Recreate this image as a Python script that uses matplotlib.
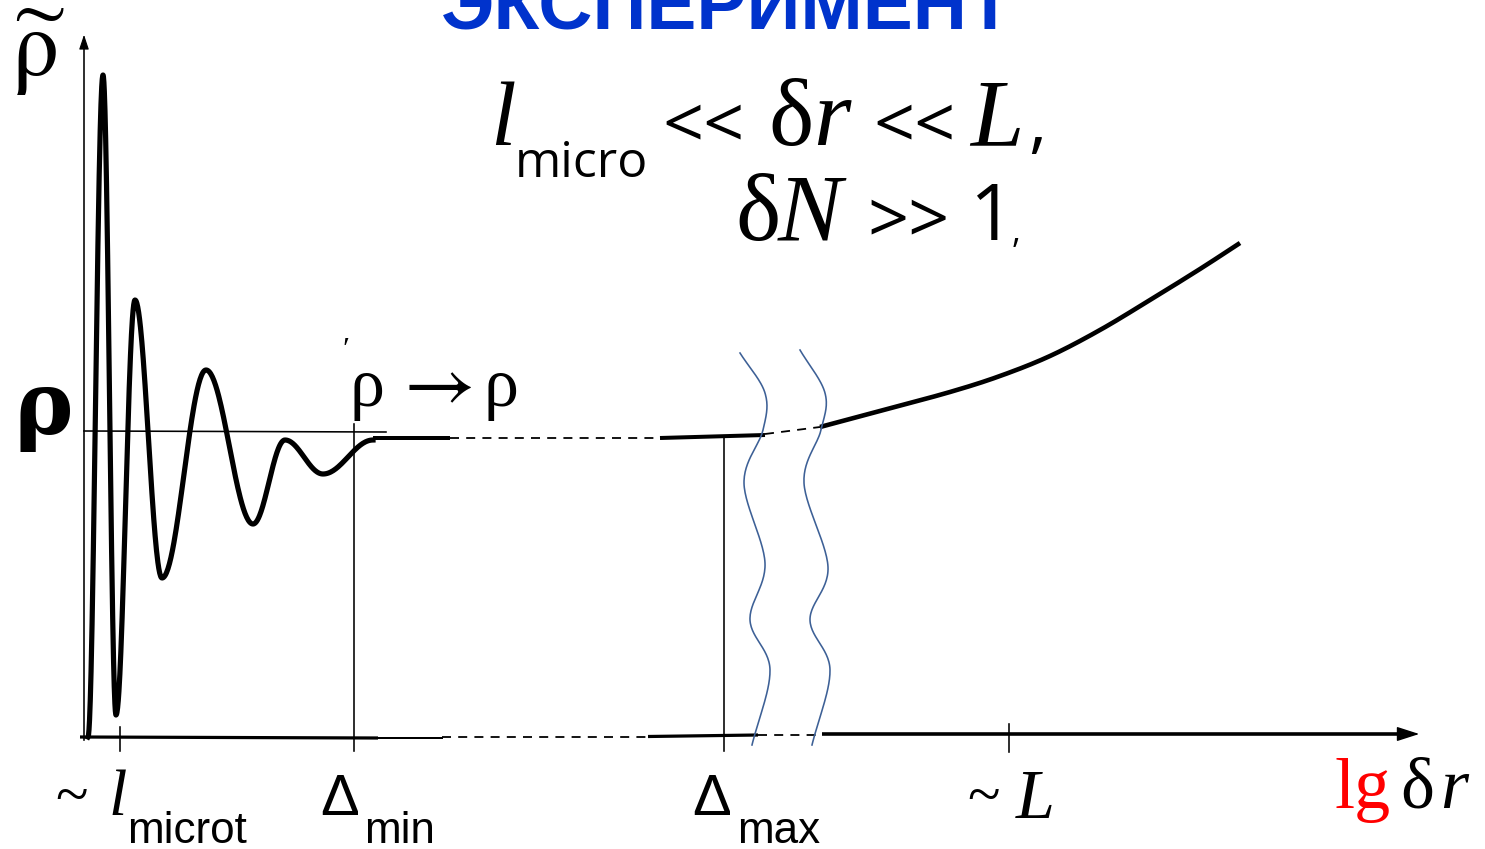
import numpy as np
import matplotlib
matplotlib.use("Agg")
import matplotlib.pyplot as plt

plt.rcParams["mathtext.fontset"] = "stix"

# ---- curve data (horizontal position, vertical position; y grows downward) ----
# extrema of the decaying oscillation of the density near the origin
osc_x = [88, 103, 116, 135, 162, 206, 253, 285, 323, 373]
osc_y = [737, 75, 715, 300, 578, 370, 524, 440, 474, 440]

# plateau level rho and the zones where it is only implied (dashed)
plateau_solid = [(373, 450, 438, 438), (660, 765, 438, 435)]
plateau_dash = [(450, 660, 438, 438), (765, 820, 434, 427)]

# growth of the density at large scales
rise_x = [820, 880, 950, 1000, 1050, 1100, 1150, 1200, 1240]
rise_y = [427, 411, 392, 376, 356, 330, 300, 269, 243]

# wavy break marks on the axis
wave1_x = [740, 765, 763, 744, 765, 750, 770, 752]
wave1_y = [353, 393, 430, 483, 563, 620, 670, 745]
wave2_x = [800, 825, 821, 804, 828, 810, 830, 812]
wave2_y = [350, 393, 430, 483, 567, 620, 670, 745]

# tick positions on the scale axis
tick_micro, tick_dmin, tick_dmax, tick_L = 120, 354, 724, 1009


def halfcos(xs, ys, n=60):
    px, py = [], []
    for i in range(len(xs) - 1):
        t = np.linspace(0, 1, n)
        px.append(xs[i] + (xs[i + 1] - xs[i]) * t)
        py.append(ys[i] + (ys[i + 1] - ys[i]) * (1 - np.cos(np.pi * t)) / 2)
    return np.concatenate(px), np.concatenate(py)


def catmull(xs, ys, n=30):
    p = np.column_stack([xs, ys]).astype(float)
    p = np.vstack([2 * p[0] - p[1], p, 2 * p[-1] - p[-2]])
    out = []
    for i in range(1, len(p) - 2):
        p0, p1, p2, p3 = p[i - 1], p[i], p[i + 1], p[i + 2]
        t = np.linspace(0, 1, n)[:, None]
        out.append(0.5 * ((2 * p1) + (-p0 + p2) * t + (2 * p0 - 5 * p1 + 4 * p2 - p3) * t ** 2
                          + (-p0 + 3 * p1 - 3 * p2 + p3) * t ** 3))
    out = np.vstack(out)
    return out[:, 0], out[:, 1]


W, H = 1485, 849
fig = plt.figure(figsize=(W / 100, H / 100), dpi=100)
ax = fig.add_axes([0, 0, 1, 1])
ax.set_xlim(0, W)
ax.set_ylim(H, 0)
ax.axis("off")

PX = 0.72  # points per pixel at 100 dpi

# vertical axis with small arrow
ax.plot([84, 84], [740, 45], color="black", lw=1.6 * PX)
ax.annotate("", xy=(84, 32), xytext=(84, 48),
            arrowprops=dict(arrowstyle="-|>,head_length=0.9,head_width=0.3", color="black", lw=0.8))

# horizontal axis pieces
ax.plot([80, 378], [737, 738], color="black", lw=3.2 * PX, solid_capstyle="butt")
ax.plot([378, 442], [738, 738], color="black", lw=2.0 * PX)
ax.plot([442, 648], [737, 737], color="black", lw=1.8 * PX, ls=(0, (5, 4)))
ax.plot([648, 758], [736.5, 735], color="black", lw=3.2 * PX, solid_capstyle="butt")
ax.plot([758, 822], [735, 735], color="black", lw=1.8 * PX, ls=(0, (5, 4)))
ax.plot([822, 1398], [734, 734], color="black", lw=3.6 * PX, solid_capstyle="butt")
ax.annotate("", xy=(1422, 734), xytext=(1392, 734),
            arrowprops=dict(arrowstyle="-|>,head_length=1.4,head_width=0.45", color="black", lw=1))

# reference level line
ax.plot([84, 386], [431, 432], color="black", lw=1.6 * PX)

# ticks and marker lines
ax.plot([tick_micro, tick_micro], [727, 751], color="black", lw=1.6 * PX)
ax.plot([tick_dmin, tick_dmin], [424, 751], color="black", lw=1.6 * PX)
ax.plot([tick_dmax, tick_dmax], [437, 751], color="black", lw=1.6 * PX)
ax.plot([tick_L, tick_L], [724, 752], color="black", lw=1.6 * PX)

# oscillating density
cx, cy = halfcos(osc_x, osc_y)
ax.plot(cx, cy, color="black", lw=5.2 * PX, solid_joinstyle="round")

for x0, x1, y0, y1 in plateau_solid:
    ax.plot([x0, x1], [y0, y1], color="black", lw=4.0 * PX, solid_capstyle="butt")
for x0, x1, y0, y1 in plateau_dash:
    ax.plot([x0, x1], [y0, y1], color="black", lw=1.8 * PX, ls=(0, (5, 4)))

rx, ry = catmull(rise_x, rise_y)
ax.plot(rx, ry, color="black", lw=4.6 * PX, solid_capstyle="butt")

for wx, wy in ((wave1_x, wave1_y), (wave2_x, wave2_y)):
    sx, sy = catmull(wx, wy)
    ax.plot(sx, sy, color="#3d6096", lw=1.6 * PX)

SERIF = "Liberation Serif"
SANS = "Liberation Sans"
OPEN = "Open Sans"


def txt(x, y, s, px, family=SERIF, style="normal", weight="normal", color="black", ha="left", va="baseline"):
    ax.text(x, y, s, fontsize=px * PX, family=family, style=style, weight=weight,
            color=color, ha=ha, va=va)


# title
txt(727, 28, "ЭКСПЕРИМЕНТ", 75, family=SANS, weight="bold", color="#0033cc", ha="center")

# condition formula
txt(490, 145, "l", 92, style="italic")
txt(515, 177, "micro", 50, family=OPEN)
txt(662, 147, "<<", 72, family=OPEN)
txt(768, 145, "δ", 96)
txt(813, 145, "r", 96, style="italic")
txt(873, 147, "<<", 72, family=OPEN)
txt(970, 145, "L", 96, style="italic")
txt(1028, 145, ",", 70, family=OPEN)
txt(735, 240, "δ", 96)
txt(778, 240, "N", 96, style="italic")
txt(867, 242, ">>", 72, family=OPEN)
txt(970, 240, "1", 78, family=OPEN)
txt(1012, 243, ",", 34, family=OPEN)

# axis symbols
txt(11, 76, r"$\widetilde{\mathrm{\rho}}$", 94)
txt(14, 434, "ρ", 88, family="DejaVu Serif", weight="bold")
txt(350, 406, "ρ", 70)
txt(392, 405, r"$\rightarrow$", 78)
txt(484, 406, "ρ", 70)
txt(342, 358, "ʹ", 32)

# tick labels
txt(72, 800, "~", 60, ha="center", va="center")
txt(108, 815, "l", 66, style="italic")
txt(127, 843, "microt", 44, family=SANS)
txt(320, 815, "Δ", 58, family=SANS)
txt(364, 843, "min", 44, family=SANS)
txt(692, 815, "Δ", 58, family=SANS)
txt(737, 843, "max", 44, family=SANS)
txt(984, 800, "~", 60, ha="center", va="center")
txt(1016, 818, "L", 70, style="italic")
txt(1334, 808, "lg", 72, color="#ff0000")
txt(1400, 808, "δ", 72)
txt(1440, 808, "r", 72, style="italic")

fig.savefig("out.png", dpi=100)
